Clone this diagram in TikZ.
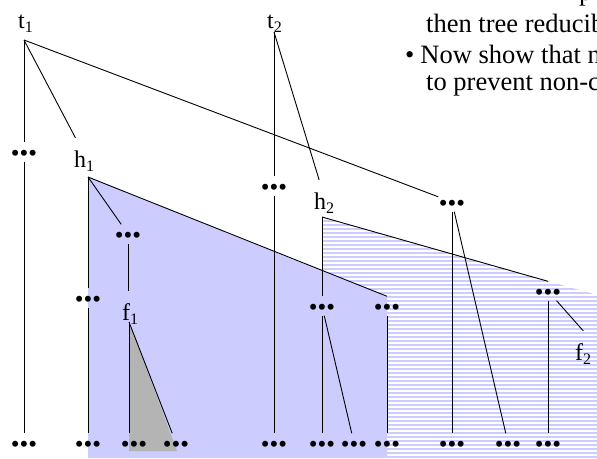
\documentclass[tikz,border=0pt]{standalone}
\usepackage{fontspec}
\setmainfont{Liberation Serif}
\usetikzlibrary{positioning}
\definecolor{hilite}{RGB}{204,204,255}
\definecolor{greyfill}{RGB}{180,180,180}
\newcommand{\lowidx}[1]{\raisebox{-4pt}{\fontsize{16}{16}\selectfont #1}}

\begin{document}
\begin{tikzpicture}[x=1pt, y=-1pt,
    dots/.style={font=\fontsize{25}{25}\selectfont, inner sep=0.5pt, text height=18pt, text depth=0pt, anchor=base},
    lbl/.style={font=\fontsize{24}{24}\selectfont, inner sep=0pt, text height=29pt, anchor=base west},
    txt/.style={font=\fontsize{26.5}{26.5}\selectfont, inner sep=0pt, anchor=base west},
    link/.style={line width=0.9pt}]
    \useasboundingbox (0,0) rectangle (597,458);
    \clip (0,0) rectangle (597,458);

    % striped part below h2
    \begin{scope}
      \clip (322,217) -- (597,295) -- (597,458) -- (322,458) -- cycle;
      \foreach \y in {217,221,...,461}
        \draw[hilite, line width=2pt] (322,\y) -- (597,\y);
    \end{scope}
    % filled part below h1
    \fill[hilite] (88,177) -- (387,297) -- (387,458) -- (88,458) -- cycle;
    \fill[greyfill] (129,322) -- (177,451) -- (129,451) -- cycle;

    \coordinate (t1) at (24,40);
    \coordinate (t2) at (274,32);
    \coordinate (h1) at (88,177);
    \coordinate (h2) at (322,217);
    \coordinate (f1) at (129,322);

    \node[lbl] (t1l) at (18,28) {t\lowidx{1}};
    \node[lbl] (t2l) at (267,28) {t\lowidx{2}};
    \node[lbl] (h1l) at (74,167) {h\lowidx{1}};
    \node[lbl] (h2l) at (314,209) {h\lowidx{2}};
    \node[lbl] (f1l) at (122,320) {f\lowidx{1}};
    \node[lbl] (f2l) at (575,360) {f\lowidx{2}};

    \node[dots] (a1) at (24,161) {•••};
    \node[dots] (a2) at (274,195) {•••};
    \node[dots] (a3) at (452,211) {•••};
    \node[dots] (b1) at (128,243) {•••};
    \node[dots] (b2) at (88,307) {•••};
    \node[dots] (c1) at (322,315) {•••};
    \node[dots] (c2) at (387,315) {•••};
    \node[dots] (c3) at (548,300) {•••};

    \node[dots] (e1) at (24,452) {•••};
    \node[dots] (e2) at (88,452) {•••};
    \node[dots] (e3) at (134,452) {•••};
    \node[dots] (e4) at (176,452) {•••};
    \node[dots] (e5) at (274,452) {•••};
    \node[dots] (e6) at (322,452) {•••};
    \node[dots] (e7) at (354,452) {•••};
    \node[dots] (e8) at (387,452) {•••};
    \node[dots] (e9) at (452,452) {•••};
    \node[dots] (e10) at (508,452) {•••};
    \node[dots] (e11) at (548,452) {•••};

    \draw[link] (t1) -- (a1);
    \draw[link] (t1) -- (h1l);
    \draw[link] (t1) -- (a3);
    \draw[link] (a1) -- (e1);

    \draw[link] (h1) -- (b2);
    \draw[link] (b2) -- (e2);
    \draw[link] (h1) -- (b1);
    \draw[link] (b1) -- (b1 |- f1l.north);
    \draw[link] (h1) -- (c2.north);
    \draw[link] (c2) -- (e8);

    \draw[link] (f1) -- (f1 |- e3.north);
    \draw[link] (f1) -- (e4);

    \draw[link] (t2) -- (a2);
    \draw[link] (a2) -- (e5);
    \draw[link] (t2) -- (h2l);

    \draw[link] (h2) -- (c1);
    \draw[link] (c1) -- (e6);
    \draw[link] (c1) -- (e7);
    \draw[link] (h2) -- (c3.north);
    \draw[link] (c3) -- (e11);
    \draw[link] (c3) -- (f2l.north);

    \draw[link] (a3) -- (e9);
    \draw[link] (a3) -- (e10);

    \node[txt] (l0) at (579,0) {p};
    \node[txt] (l1) at (426,32) {then tree reducib};
    \node[txt] (l2) at (405,63) {•\hspace{6pt}Now show that n};
    \node[txt] (l3) at (426,90) {to prevent non-c};
\end{tikzpicture}
\end{document}
